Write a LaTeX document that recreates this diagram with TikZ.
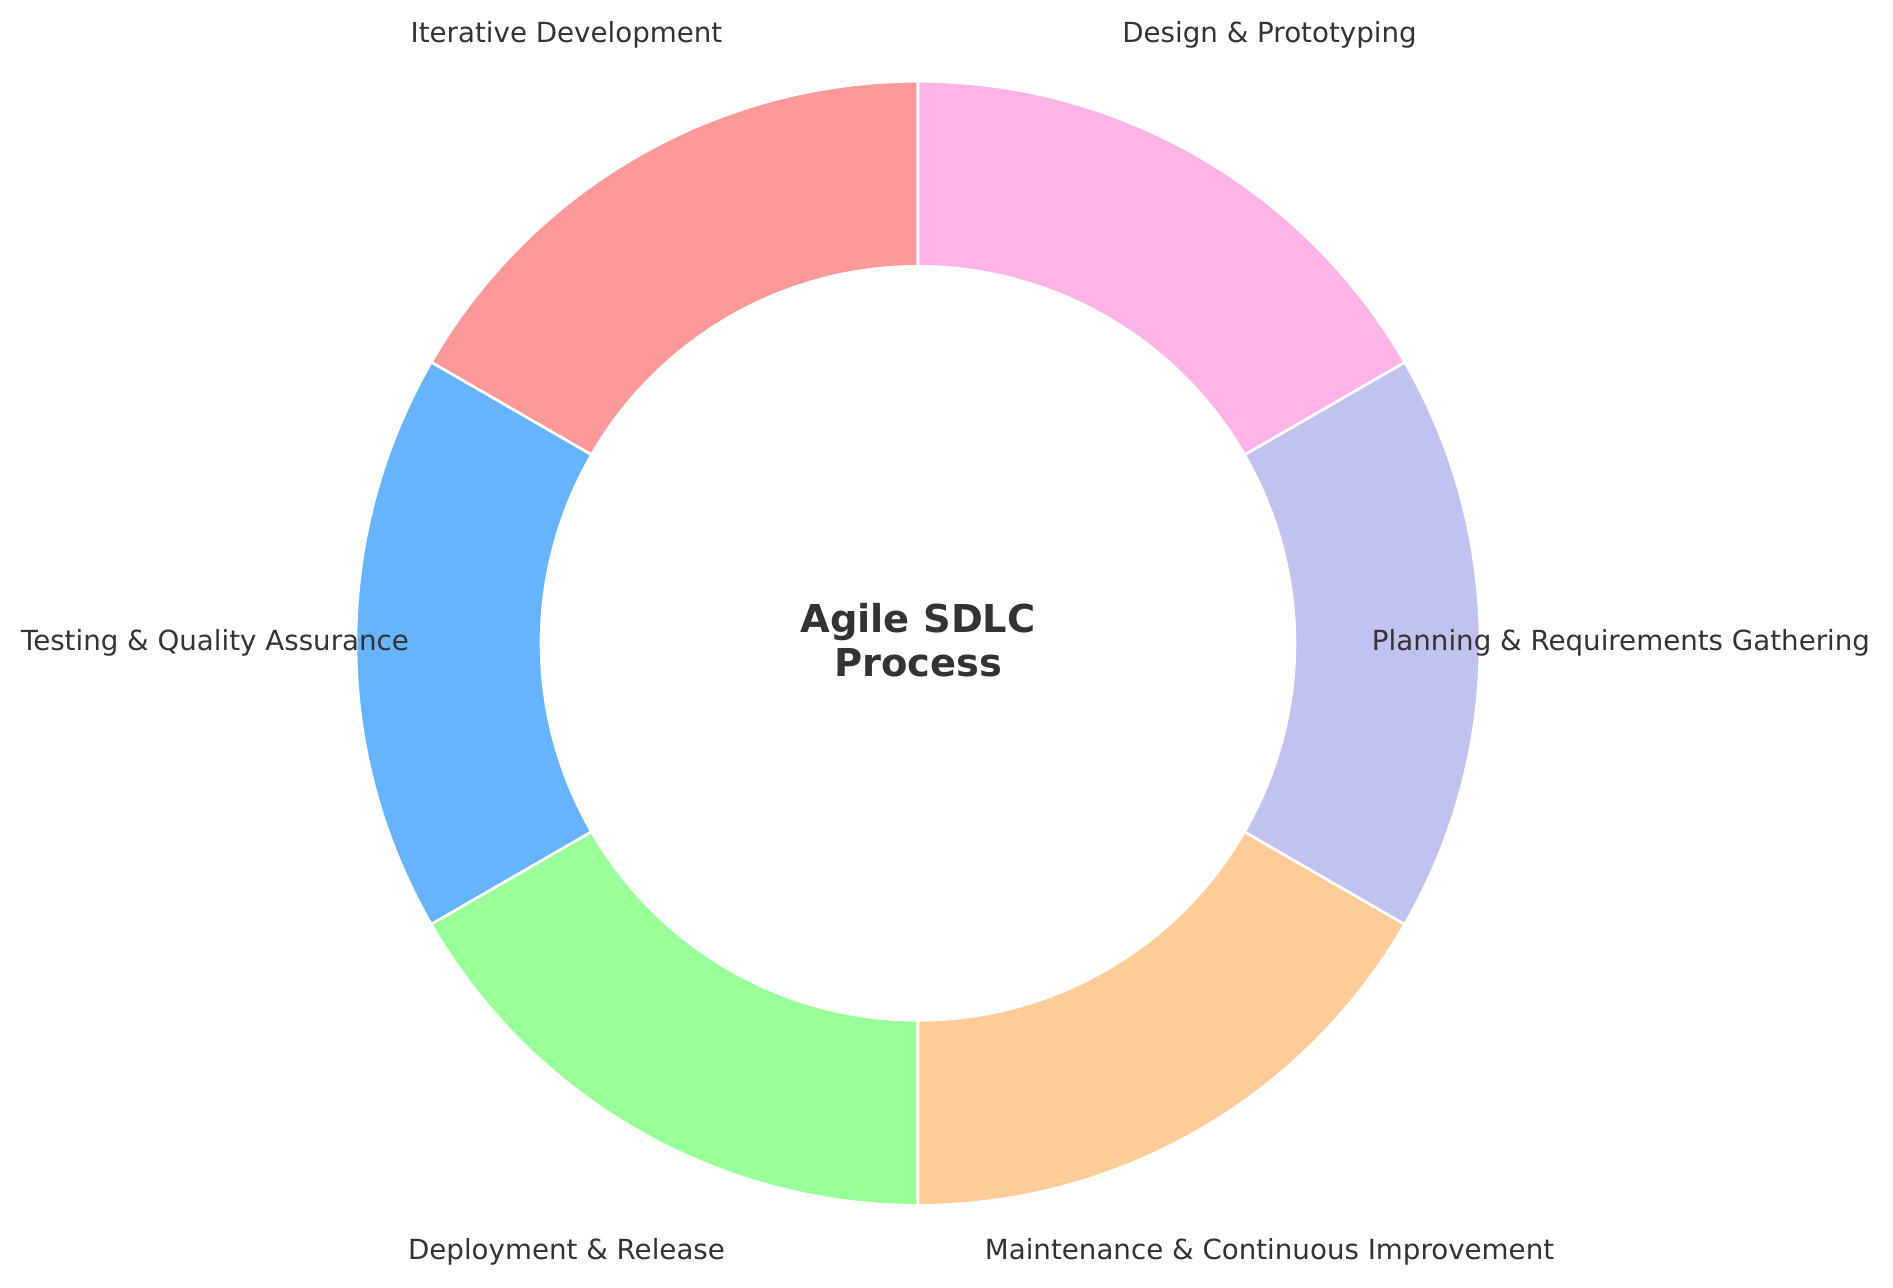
\documentclass[tikz,border=0pt]{standalone}
\usepackage{fontspec}
\setmainfont{DejaVu Sans}
\usepackage{tikz}
\usetikzlibrary{positioning}

\definecolor{labelgray}{HTML}{333333}
\definecolor{iterred}{HTML}{FF9999}
\definecolor{testblue}{HTML}{66B3FF}
\definecolor{deploygreen}{HTML}{99FF99}
\definecolor{maintorange}{HTML}{FFCC99}
\definecolor{planviolet}{HTML}{C2C2F0}
\definecolor{designpink}{HTML}{FFB3E6}

\tikzset{
  wedge/.style={draw=white,line width=1.3pt},
  phase/.style={text=labelgray,font=\fontsize{13.85}{16}\selectfont,inner sep=0pt},
  hub/.style={text=labelgray,font=\fontsize{19.2}{21.8}\selectfont\bfseries,align=center,inner sep=0pt}
}

\begin{document}
\begin{tikzpicture}[x=0.5pt,y=0.5pt]
%
  \useasboundingbox (-918,-644.7) rectangle (975,643.3) ;
%
  \fill [wedge,fill=iterred]     (90:562) arc [start angle=90,end angle=150,radius=562]
        -- (150:377) arc [start angle=150,end angle=90,radius=377] -- cycle ;
  \fill [wedge,fill=testblue]    (150:562) arc [start angle=150,end angle=210,radius=562]
        -- (210:377) arc [start angle=210,end angle=150,radius=377] -- cycle ;
  \fill [wedge,fill=deploygreen] (210:562) arc [start angle=210,end angle=270,radius=562]
        -- (270:377) arc [start angle=270,end angle=210,radius=377] -- cycle ;
  \fill [wedge,fill=maintorange] (270:562) arc [start angle=270,end angle=330,radius=562]
        -- (330:377) arc [start angle=330,end angle=270,radius=377] -- cycle ;
  \fill [wedge,fill=planviolet]  (-30:562) arc [start angle=-30,end angle=30,radius=562]
        -- (30:377) arc [start angle=30,end angle=-30,radius=377] -- cycle ;
  \fill [wedge,fill=designpink]  (30:562) arc [start angle=30,end angle=90,radius=562]
        -- (90:377) arc [start angle=90,end angle=30,radius=377] -- cycle ;
%
  \node [phase] (iter)   at (120:703) {Iterative Development} ;
  \node [phase] (test)   at (180:703) {Testing \& Quality Assurance} ;
  \node [phase] (deploy) at (240:703) {Deployment \& Release} ;
  \node [phase] (maint)  at (300:703) {Maintenance \& Continuous Improvement} ;
  \node [phase] (plan)   at (0:703)   {Planning \& Requirements Gathering} ;
  \node [phase] (design) at (60:703)  {Design \& Prototyping} ;
%
  \node [hub] (title) at (0,3) {Agile SDLC\\Process} ;
%
\end{tikzpicture}
\end{document}
